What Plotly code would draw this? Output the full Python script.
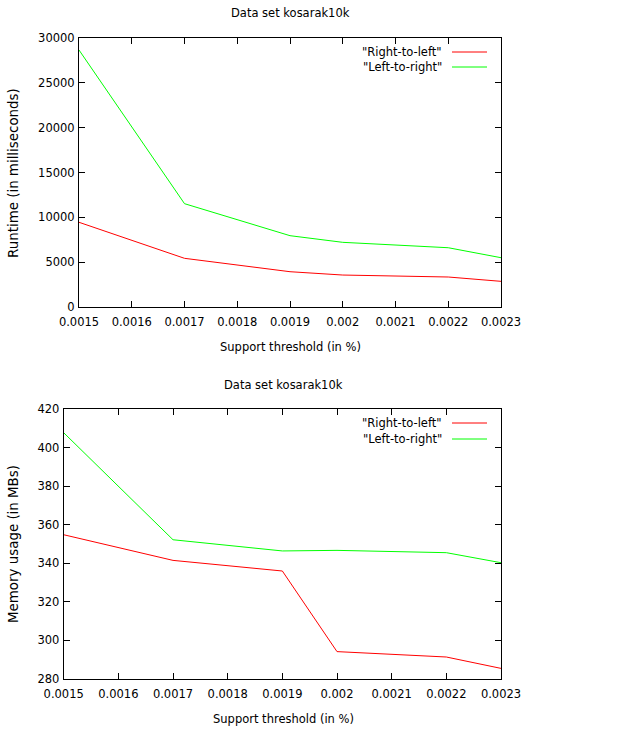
import plotly.graph_objects as go

W, H = 617, 731

support = [0.0015, 0.0017, 0.0019, 0.002, 0.0022, 0.0023]
runtime_rtl = [9460, 5450, 3960, 3590, 3370, 2890]
runtime_ltr = [28630, 11530, 7970, 7230, 6630, 5520]
memory_rtl = [354.8, 341.5, 336.0, 294.2, 291.4, 285.5]
memory_ltr = [407.7, 352.2, 346.4, 346.7, 345.5, 340.3]

x_ticks = [0.0015, 0.0016, 0.0017, 0.0018, 0.0019, 0.002, 0.0021, 0.0022, 0.0023]
x_tick_labels = ["0.0015", "0.0016", "0.0017", "0.0018", "0.0019", "0.002", "0.0021", "0.0022", "0.0023"]
series_names = ['"Right-to-left"', '"Left-to-right"']
series_colors = ["#ff0000", "#00ff00"]
title_text = "Data set kosarak10k"
xlabel = "Support threshold (in %)"
ylabel_top = "Runtime (in milliseconds)"
ylabel_bottom = "Memory usage (in MBs)"

FONT = "DejaVu Sans"
FS = 11.5
FS_V = 13.4

def px_x(p):
    return p / W

def px_y(p):
    return 1 - p / H

fig = go.Figure()
fig.add_trace(go.Scatter(x=support, y=runtime_rtl, mode="lines", line=dict(color=series_colors[0], width=1), xaxis="x", yaxis="y", showlegend=False))
fig.add_trace(go.Scatter(x=support, y=runtime_ltr, mode="lines", line=dict(color=series_colors[1], width=1), xaxis="x", yaxis="y", showlegend=False))
fig.add_trace(go.Scatter(x=support, y=memory_rtl, mode="lines", line=dict(color=series_colors[0], width=1), xaxis="x2", yaxis="y2", showlegend=False))
fig.add_trace(go.Scatter(x=support, y=memory_ltr, mode="lines", line=dict(color=series_colors[1], width=1), xaxis="x2", yaxis="y2", showlegend=False))

axis_common = dict(showline=True, linecolor="black", linewidth=1, mirror="ticks",
                   ticks="inside", ticklen=6, tickcolor="black", tickwidth=1,
                   showgrid=False, zeroline=False, automargin=False,
                   tickfont=dict(family=FONT, size=FS, color="black"))

top_plot = (79, 501, 37.7, 307.3)
bot_plot = (63.7, 501, 409, 679)

fig.update_layout(
    width=W, height=H,
    margin=dict(l=0, r=0, t=0, b=0, autoexpand=False),
    paper_bgcolor="white", plot_bgcolor="white",
    showlegend=False,
    xaxis=dict(domain=[px_x(top_plot[0]), px_x(top_plot[1])], range=[0.0015, 0.0023],
               tickvals=x_ticks, ticktext=x_tick_labels, anchor="y", ticklabelstandoff=4, **axis_common),
    yaxis=dict(domain=[px_y(top_plot[3]), px_y(top_plot[2])], range=[0, 30000],
               dtick=5000, tick0=0, tickformat="d", anchor="x", ticklabelstandoff=1, **axis_common),
    xaxis2=dict(domain=[px_x(bot_plot[0]), px_x(bot_plot[1])], range=[0.0015, 0.0023],
                tickvals=x_ticks, ticktext=x_tick_labels, anchor="y2", ticklabelstandoff=4, **axis_common),
    yaxis2=dict(domain=[px_y(bot_plot[3]), px_y(bot_plot[2])], range=[280, 420],
                dtick=20, tick0=280, tickformat="d", anchor="x2", ticklabelstandoff=1, **axis_common),
)

ann = []
def text(x, y, t, angle=0, xanchor="center", size=FS):
    ann.append(dict(x=px_x(x), y=px_y(y), xref="paper", yref="paper", text=t, showarrow=False,
                    textangle=angle, xanchor=xanchor, yanchor="middle",
                    font=dict(family=FONT, size=size, color="black")))

text(290, 13, title_text)
text(290, 347, xlabel)
text(13, 173, ylabel_top, angle=-90, size=FS_V)
text(283, 385, title_text)
text(283, 719, xlabel)
text(13, 544, ylabel_bottom, angle=-90, size=FS_V)

shapes = []
legend_rows = [(52, 67), (423, 439)]
for rows in legend_rows:
    for name, color, yy in zip(series_names, series_colors, rows):
        text(444, yy, name, xanchor="right")
        shapes.append(dict(type="line", xref="paper", yref="paper",
                           x0=px_x(452), x1=px_x(487), y0=px_y(yy), y1=px_y(yy),
                           line=dict(color=color, width=1)))

fig.update_layout(annotations=ann, shapes=shapes)
fig.write_html(
    "out.html",
    config={"displayModeBar": False},
    post_script="document.body.style.margin='0';document.body.style.overflow='hidden';",
)
